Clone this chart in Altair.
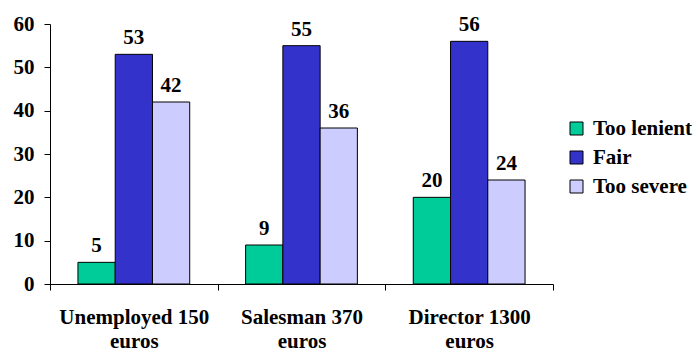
import altair as alt
import pandas as pd

groups = ["Unemployed 150 euros", "Salesman 370 euros", "Director 1300 euros"]
series = ["Too lenient", "Fair", "Too severe"]
too_lenient = [5, 9, 20]
fair = [53, 55, 56]
too_severe = [42, 36, 24]
colors = ["#00CC99", "#3333CC", "#CCCCFF"]

rows = []
for i, g in enumerate(groups):
    for s, vals in zip(series, [too_lenient, fair, too_severe]):
        rows.append({"group": g, "series": s, "value": vals[i]})
df = pd.DataFrame(rows)

FONT = "'Liberation Serif', 'Times New Roman', serif"

x_enc = alt.X(
    "group:N",
    sort=groups,
    title=None,
    scale=alt.Scale(paddingInner=0, paddingOuter=0),
    axis=alt.Axis(
        labelExpr="datum.label ? [replace(datum.label, ' euros', ''), 'euros'] : ''",
        labelAngle=0,
        labelFont=FONT,
        labelFontWeight="bold",
        labelFontSize=21,
        labelColor="black",
        labelLineHeight=24,
        labelPadding=16,
        tickBand="extent",
        tickSize=6,
        tickColor="black",
        domainColor="black",
        grid=False,
    ),
)
xo_enc = alt.XOffset(
    "series:N", sort=series, scale=alt.Scale(paddingInner=0, paddingOuter=0.75)
)
y_enc = alt.Y(
    "value:Q",
    title=None,
    scale=alt.Scale(domain=[0, 60], nice=False),
    axis=alt.Axis(
        values=[0, 10, 20, 30, 40, 50, 60],
        labelFont=FONT,
        labelFontWeight="bold",
        labelFontSize=21,
        labelColor="black",
        labelPadding=10,
        tickSize=6,
        tickColor="black",
        domainColor="black",
        grid=False,
    ),
)

bars = alt.Chart(df).mark_bar(stroke="black", strokeWidth=1).encode(
    x=x_enc,
    xOffset=xo_enc,
    y=y_enc,
    color=alt.Color(
        "series:N",
        sort=series,
        scale=alt.Scale(domain=series, range=colors),
        legend=alt.Legend(
            title=None,
            orient="none",
            legendX=516,
            legendY=94,
            symbolType="square",
            symbolSize=169,
            symbolStrokeColor="black",
            symbolStrokeWidth=1,
            labelFont=FONT,
            labelFontWeight="bold",
            labelFontSize=21,
            labelColor="black",
            labelOffset=6,
            rowPadding=7,
            padding=0,
        ),
    ),
)

labels = alt.Chart(df).mark_text(
    font=FONT, fontWeight="bold", fontSize=21, color="black",
    baseline="alphabetic", dy=-10,
).encode(
    x=alt.X("group:N", sort=groups),
    xOffset=alt.XOffset("series:N", sort=series),
    y="value:Q",
    text="value:Q",
)

chart = (
    alt.layer(bars, labels)
    .properties(
        width=503,
        height=260,
        autosize=alt.AutoSizeParams(type="none"),
        padding={"left": 50, "top": 24, "right": 144, "bottom": 68},
        background="white",
    )
    .configure_view(stroke=None)
)

chart.save("out.html", embed_options={"renderer": "svg", "actions": False})
